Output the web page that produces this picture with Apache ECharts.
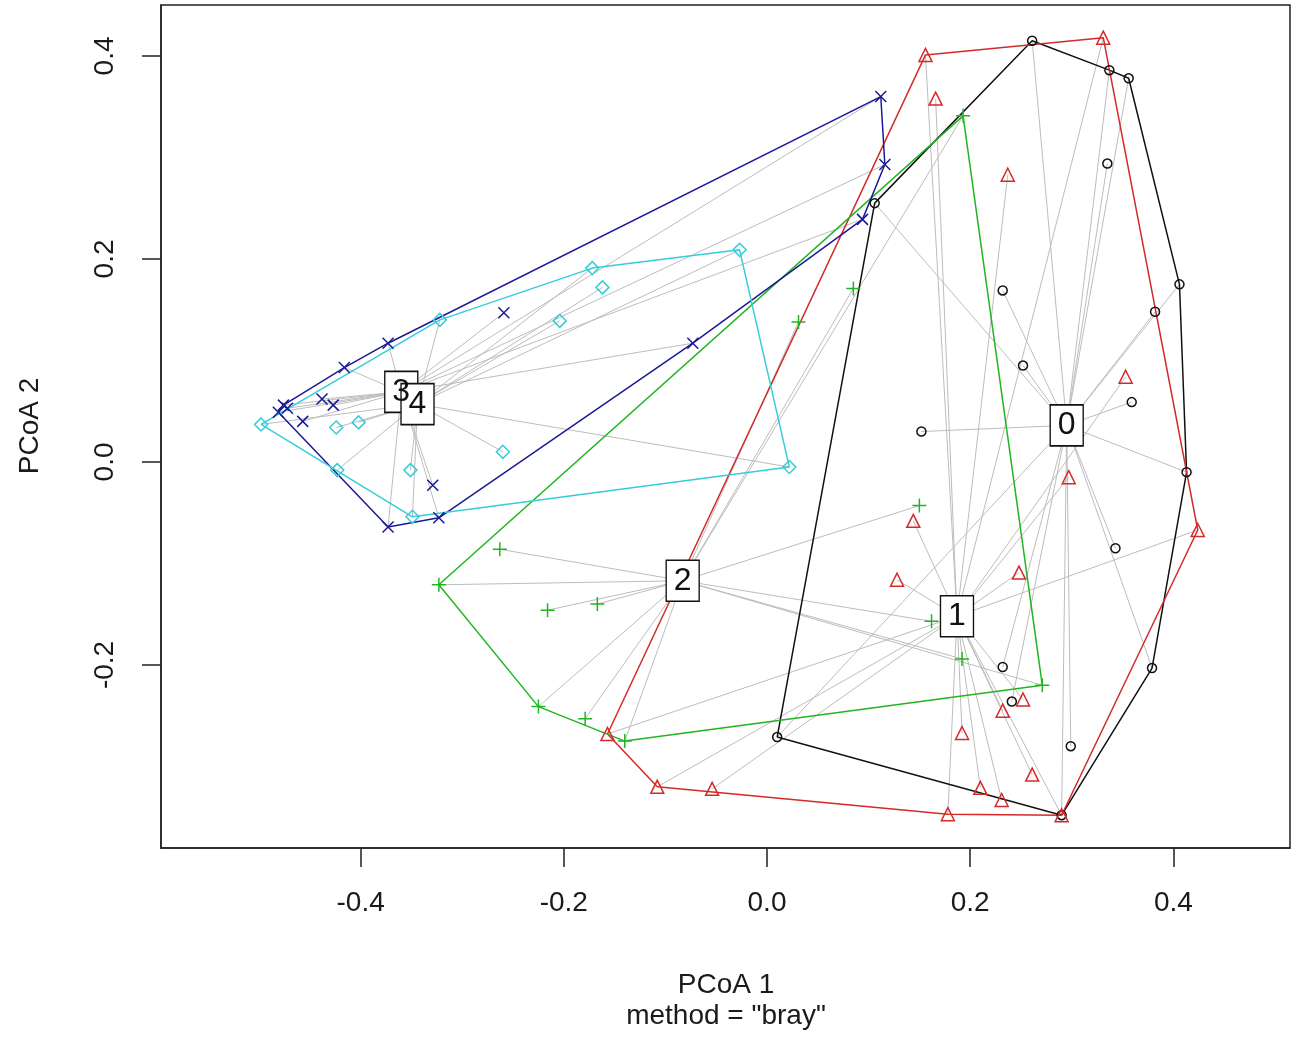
<!DOCTYPE html>
<html>
<head>
<meta charset="utf-8">
<script src="https://cdn.jsdelivr.net/npm/echarts@6/dist/echarts.min.js"></script>
<style>
  html, body { margin: 0; padding: 0; background: #ffffff; }
  #chart { width: 1297px; height: 1044px; }
</style>
</head>
<body>
<div id="chart"></div>
<script>
// PCoA scores (axis 1, axis 2) of each sample, by group
const groupNames = ['0', '1', '2', '3', '4'];

const group0 = [
  [0.261, 0.415], [0.337, 0.386], [0.356, 0.378], [0.335, 0.294], [0.232, 0.169],
  [0.406, 0.175], [0.382, 0.148], [0.106, 0.255], [0.252, 0.095], [0.359, 0.059],
  [0.152, 0.030], [0.413, -0.010], [0.343, -0.085], [0.232, -0.202], [0.379, -0.203],
  [0.241, -0.236], [0.299, -0.280], [0.010, -0.271], [0.290, -0.348]
];
const group1 = [
  [0.156, 0.401], [0.331, 0.418], [0.166, 0.358], [0.237, 0.283], [0.353, 0.084],
  [0.297, -0.015], [0.424, -0.067], [0.144, -0.058], [0.128, -0.116], [0.248, -0.109],
  [0.252, -0.234], [0.232, -0.245], [0.192, -0.267], [0.261, -0.308], [0.210, -0.321],
  [0.231, -0.333], [0.178, -0.347], [0.290, -0.348], [-0.157, -0.268], [-0.108, -0.320],
  [-0.054, -0.322]
];
const group2 = [
  [0.193, 0.341], [0.085, 0.171], [0.031, 0.138], [-0.263, -0.086], [-0.323, -0.121],
  [-0.216, -0.146], [-0.167, -0.140], [-0.225, -0.241], [-0.179, -0.253], [-0.140, -0.275],
  [0.150, -0.043], [0.162, -0.157], [0.192, -0.194], [0.271, -0.220]
];
const group3 = [
  [0.112, 0.360], [0.116, 0.293], [0.094, 0.239], [-0.073, 0.117], [-0.259, 0.147],
  [-0.373, 0.117], [-0.416, 0.093], [-0.476, 0.056], [-0.481, 0.049], [-0.472, 0.053],
  [-0.438, 0.062], [-0.427, 0.056], [-0.457, 0.040], [-0.329, -0.023], [-0.373, -0.064],
  [-0.323, -0.055]
];
const group4 = [
  [-0.498, 0.037], [-0.322, 0.140], [-0.172, 0.191], [-0.162, 0.172], [-0.204, 0.139],
  [-0.027, 0.209], [0.022, -0.005], [-0.260, 0.010], [-0.349, -0.054], [-0.351, -0.008],
  [-0.423, -0.008], [-0.424, 0.034], [-0.402, 0.039]
];

// group centroids (spatial medians)
const centroids = [
  [0.295, 0.036], [0.187, -0.152], [-0.083, -0.117], [-0.360, 0.069], [-0.344, 0.057]
];

const xTicks = [-0.4, -0.2, 0.0, 0.2, 0.4];
const yTicks = [-0.2, 0.0, 0.2, 0.4];

const groups = [group0, group1, group2, group3, group4];
const colors = ['#111111', '#d42a2a', '#22b522', '#1a1a96', '#36cdd8'];
const symbols = [
  'circle',
  'triangle',
  'path://M0,5L10,5M5,0L5,10',
  'path://M0,0L10,10M10,0L0,10',
  'diamond'
];
const symbolSizes = [9, 13, 14, 11, 13];
const FONT = "'Liberation Sans', Arial, Helvetica, sans-serif";

// convex hull (monotone chain), returned closed
function convexHull(points) {
  const p = points.slice().sort((a, b) => a[0] - b[0] || a[1] - b[1]);
  const cross = (o, a, b) => (a[0] - o[0]) * (b[1] - o[1]) - (a[1] - o[1]) * (b[0] - o[0]);
  const lower = [];
  for (const pt of p) {
    while (lower.length >= 2 && cross(lower[lower.length - 2], lower[lower.length - 1], pt) <= 0) lower.pop();
    lower.push(pt);
  }
  const upper = [];
  for (let i = p.length - 1; i >= 0; i--) {
    const pt = p[i];
    while (upper.length >= 2 && cross(upper[upper.length - 2], upper[upper.length - 1], pt) <= 0) upper.pop();
    upper.push(pt);
  }
  upper.pop(); lower.pop();
  const hull = lower.concat(upper);
  hull.push(hull[0]);
  return hull;
}

const series = [];

// spokes from each sample to its group centroid
groups.forEach((pts, g) => {
  series.push({
    type: 'lines',
    coordinateSystem: 'cartesian2d',
    silent: true,
    z: 1,
    lineStyle: { color: '#bdbdbd', width: 1, opacity: 1 },
    data: pts.map(p => ({ coords: [p, centroids[g]] }))
  });
});

// hulls
groups.forEach((pts, g) => {
  series.push({
    type: 'line',
    silent: true,
    z: 2,
    symbol: 'none',
    showSymbol: false,
    lineStyle: { color: colors[g], width: 1.5 },
    data: convexHull(pts)
  });
});

// sample points
groups.forEach((pts, g) => {
  series.push({
    type: 'scatter',
    name: groupNames[g],
    silent: true,
    z: 3,
    symbol: symbols[g],
    symbolSize: symbolSizes[g],
    itemStyle: { color: 'rgba(0,0,0,0)', borderColor: colors[g], borderWidth: 1.5, opacity: 1 },
    data: pts
  });
});

// centroid labels
series.push({
  type: 'scatter',
  silent: true,
  z: 5,
  symbol: 'rect',
  symbolSize: [33, 41],
  itemStyle: { color: '#ffffff', borderColor: '#111111', borderWidth: 1.5, opacity: 1 },
  label: {
    show: true,
    position: 'inside',
    formatter: p => p.name,
    fontSize: 32,
    fontFamily: FONT,
    color: '#111111'
  },
  data: centroids.map((c, i) => ({ name: groupNames[i], value: c }))
});

const chart = echarts.init(document.getElementById('chart'), null, { renderer: 'canvas' });
chart.setOption({
  animation: false,
  backgroundColor: '#ffffff',
  grid: {
    left: 161, top: 5, right: 7, bottom: 196,
    show: true, borderColor: '#222222', borderWidth: 1.5, backgroundColor: 'transparent'
  },
  xAxis: {
    type: 'value',
    min: -0.5965, max: 0.5148,
    splitLine: { show: false },
    axisLine: { show: true, onZero: false, lineStyle: { color: '#222222', width: 1.5 } },
    axisTick: { show: true, customValues: xTicks, length: 19, lineStyle: { color: '#222222', width: 1.5 } },
    axisLabel: {
      customValues: xTicks,
      formatter: v => v.toFixed(1),
      fontSize: 28, fontFamily: FONT, color: '#1a1a1a', margin: 41
    }
  },
  yAxis: {
    type: 'value',
    min: -0.3803, max: 0.4502,
    splitLine: { show: false },
    axisLine: { show: true, onZero: false, lineStyle: { color: '#222222', width: 1.5 } },
    axisTick: { show: true, customValues: yTicks, length: 19, lineStyle: { color: '#222222', width: 1.5 } },
    axisLabel: {
      customValues: yTicks,
      formatter: v => v.toFixed(1),
      rotate: 90,
      fontSize: 28, fontFamily: FONT, color: '#1a1a1a', margin: 42
    }
  },
  graphic: [
    {
      type: 'text', x: 726, y: 985,
      style: { text: 'PCoA 1', font: '28px ' + FONT, fill: '#1a1a1a', align: 'center', verticalAlign: 'middle' }
    },
    {
      type: 'text', x: 726, y: 1016,
      style: { text: 'method = "bray"', font: '28px ' + FONT, fill: '#1a1a1a', align: 'center', verticalAlign: 'middle' }
    },
    {
      type: 'text', x: 30, y: 426, rotation: Math.PI / 2,
      style: { text: 'PCoA 2', font: '28px ' + FONT, fill: '#1a1a1a', align: 'center', verticalAlign: 'middle' }
    }
  ],
  series: series
});
</script>
</body>
</html>
